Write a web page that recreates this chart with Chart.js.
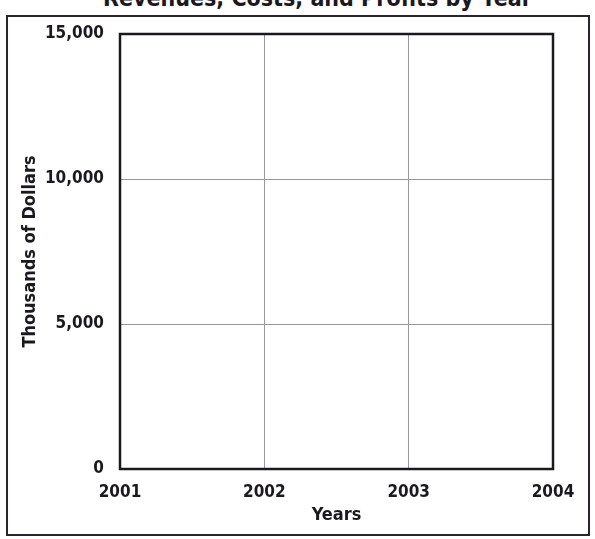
<!DOCTYPE html>
<html>
<head>
<meta charset="utf-8">
<script src="https://cdn.jsdelivr.net/npm/chart.js@4/dist/chart.umd.min.js"></script>
<style>
  html, body { margin: 0; padding: 0; background: #fff; overflow: hidden; }
  #page { position: relative; width: 595px; height: 539px; overflow: hidden; }
  #frame { position: absolute; left: 6px; top: 15px; width: 580px; height: 517px; border: 2px solid #2a2430; }
  #title { position: absolute; left: 103px; top: -15px; font: bold 23px "DejaVu Sans Condensed", "Liberation Sans", sans-serif; color: #1c1820; white-space: nowrap; }
  #wrap { position: absolute; left: 0; top: 0; width: 595px; height: 539px; }
</style>
</head>
<body>
<div id="page">
  <div id="frame"></div>
  <div id="title">Revenues, Costs, and Profits by Year</div>
  <div id="wrap"><canvas id="chart"></canvas></div>
</div>
<script>
// chart data (the printed grid is blank: no values drawn yet)
const years = [2001, 2002, 2003, 2004];
const yTicks = [0, 5000, 10000, 15000];
const revenues = [];
const costs = [];
const profits = [];

const font = '"DejaVu Sans Condensed", "Liberation Sans", sans-serif';
const ink = '#1c1820';

const borderPlugin = {
    id: 'plotBorder',
    afterDraw(chart) {
        const a = chart.chartArea;
        const ctx = chart.ctx;
        ctx.save();
        ctx.strokeStyle = ink;
        ctx.lineWidth = 2.5;
        ctx.strokeRect(a.left, a.top, a.right - a.left, a.bottom - a.top);
        ctx.restore();
    }
};

const config = {
    type: 'line',
    data: {
        datasets: [
            { label: 'Revenues', data: revenues, borderColor: ink },
            { label: 'Costs', data: costs, borderColor: ink },
            { label: 'Profits', data: profits, borderColor: ink }
        ]
    },
    options: {
        responsive: true,
        maintainAspectRatio: false,
        animation: false,
        layout: { padding: { top: 34, right: 42, left: 0, bottom: 9 } },
        scales: {
            x: {
                type: 'linear',
                min: years[0],
                max: years[years.length - 1],
                afterBuildTicks: s => { s.ticks = years.map(v => ({ value: v })); },
                afterFit: s => { s.height = 61; },
                grid: { color: '#9a95a0', lineWidth: 1, drawTicks: false },
                border: { display: false },
                ticks: { color: ink, padding: 13, font: { family: font, size: 17, weight: 'bold' }, callback: v => String(v) },
                title: { display: true, text: 'Years', color: ink, padding: { top: 0 }, font: { family: font, size: 18, weight: 'bold' } }
            },
            y: {
                min: yTicks[0],
                max: yTicks[yTicks.length - 1],
                afterBuildTicks: s => { s.ticks = yTicks.map(v => ({ value: v })); },
                afterFit: s => { s.width = 120; },
                grid: { color: '#9a95a0', lineWidth: 1, drawTicks: false },
                border: { display: false },
                ticks: { color: ink, padding: 16, font: { family: font, size: 17, weight: 'bold' }, callback: v => v.toLocaleString('en-US') },
                title: { display: true, text: 'Thousands of Dollars', color: ink, padding: { top: 20 }, font: { family: font, size: 18, weight: 'bold' } }
            }
        },
        plugins: {
            legend: { display: false },
            tooltip: { enabled: false }
        }
    },
    plugins: [borderPlugin]
};

new Chart(document.getElementById('chart'), config);
</script>
</body>
</html>
